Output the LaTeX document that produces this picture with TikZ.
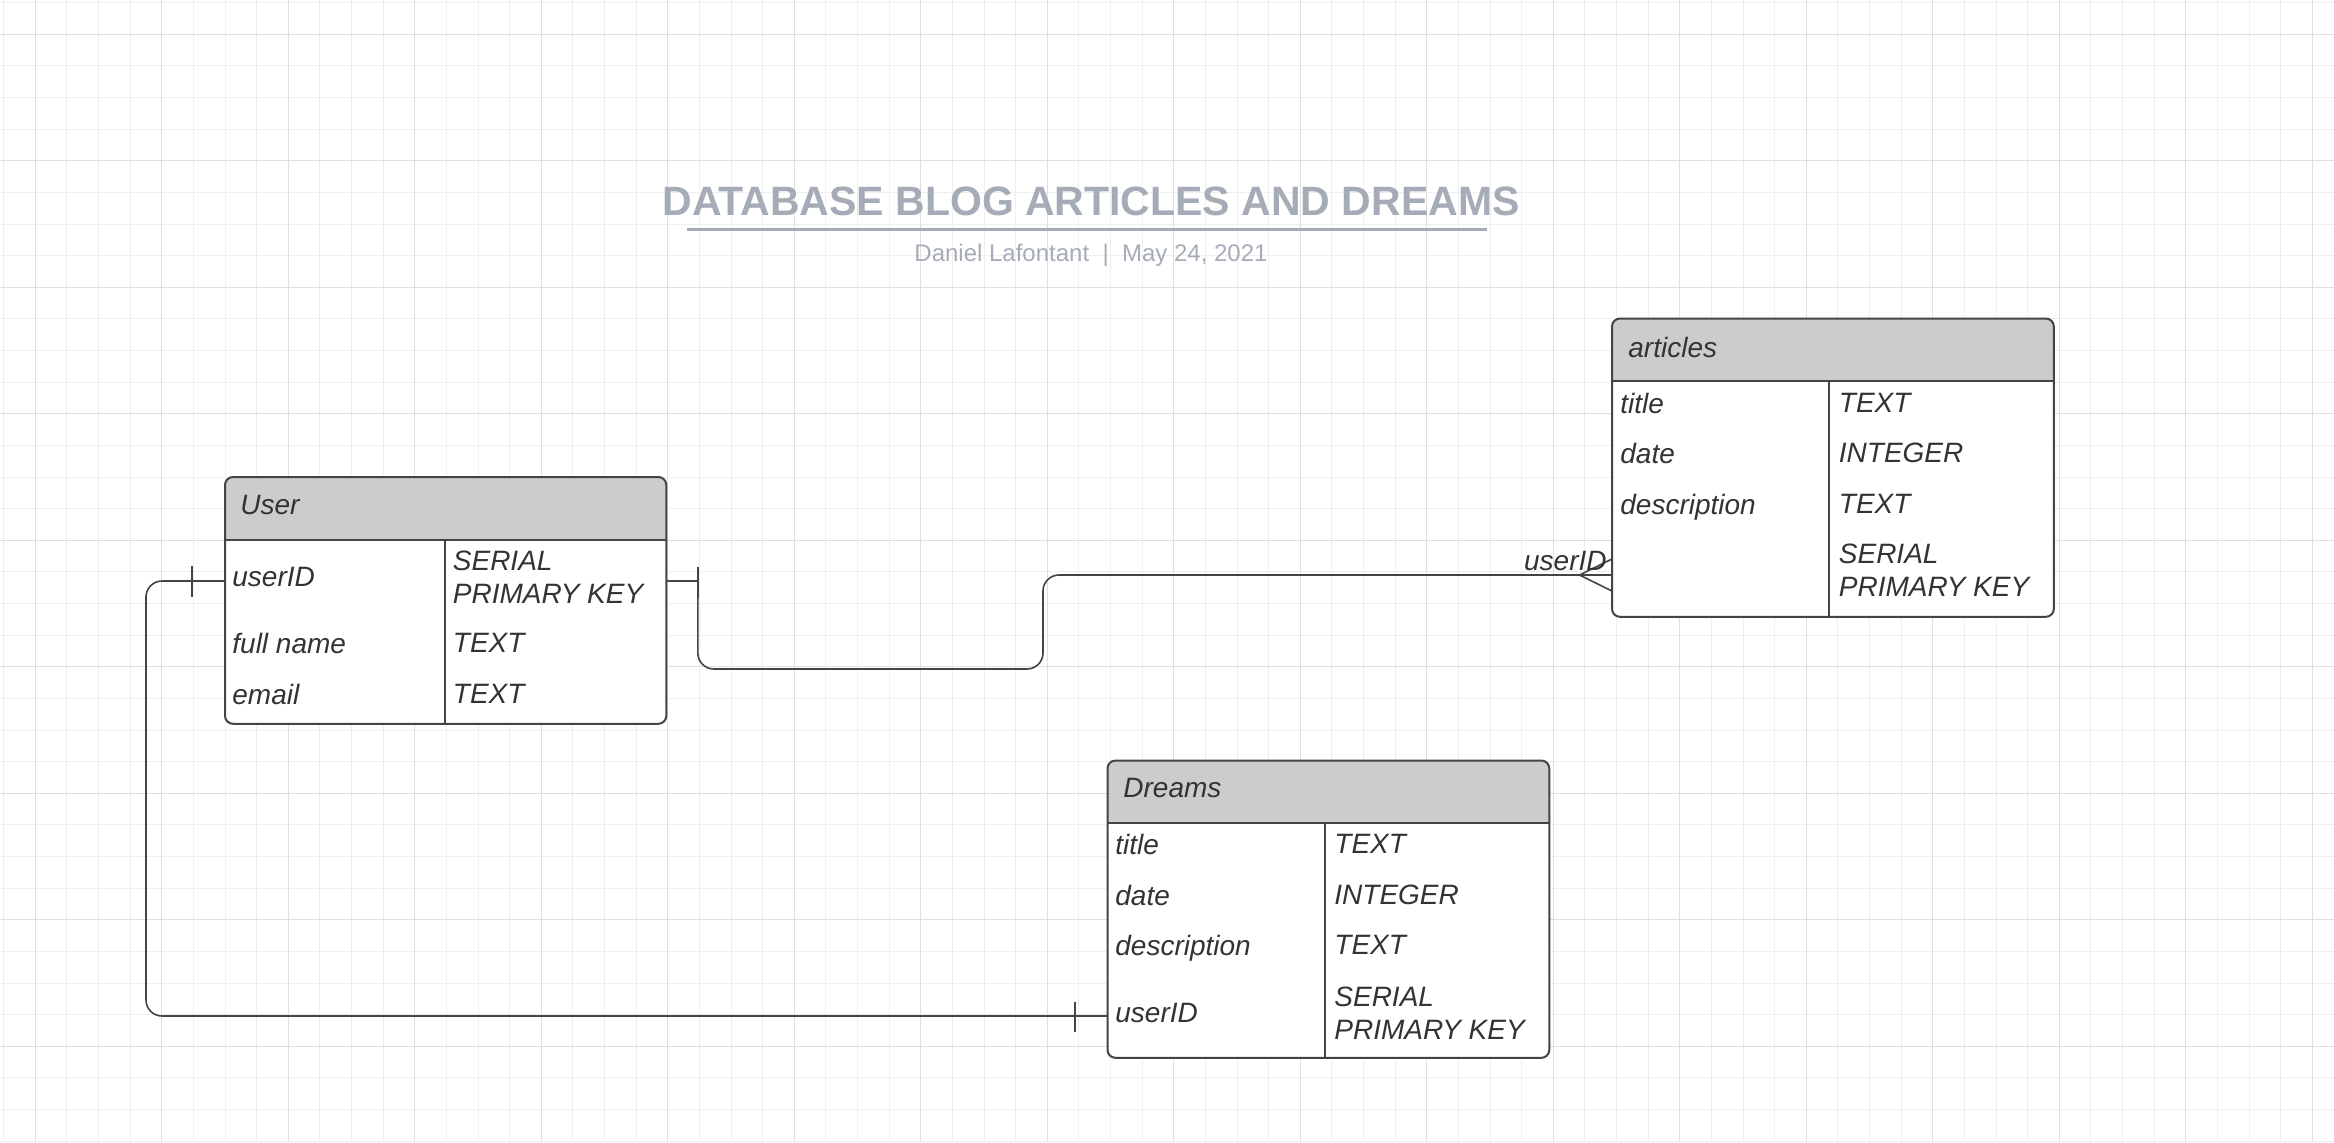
\documentclass[tikz,border=0pt]{standalone}
\usepackage{fontspec}
\setmainfont{Liberation Sans}
\usetikzlibrary{positioning, calc}
\definecolor{titlegray}{RGB}{166,172,183}
\definecolor{headgray}{RGB}{204,204,204}
\definecolor{erdline}{RGB}{68,68,68}
\definecolor{erdtext}{RGB}{51,51,51}
\definecolor{gridminor}{RGB}{239,239,239}
\definecolor{gridmajor}{RGB}{223,223,223}

\begin{document}
\begin{tikzpicture}[
    x=0.5pt, y=-0.5pt,
    every node/.style={inner sep=0pt, text=erdtext, font=\fontsize{14}{16.5}\selectfont\itshape},
    entity/.style={anchor=north west, fill=white, rounded corners=4pt},
    field/.style={anchor=west, text depth=0pt},
    fieldtype/.style={anchor=west, align=left},
    relation/.style={draw=erdline, line width=0.8pt},
    tableline/.style={draw=erdline, line width=1pt}
]

% background grid
\useasboundingbox (0,0) rectangle (2334,1142);
\fill[white] (0,0) rectangle (2334,1142);
\foreach \x in {3.675, 35.3, ..., 2334} \draw[gridminor, line width=0.5pt] (\x,0) -- (\x,1142);
\foreach \y in {2.675, 34.3, ..., 1142} \draw[gridminor, line width=0.5pt] (0,\y) -- (2334,\y);
\foreach \x in {35.3, 161.8, ..., 2334} \draw[gridmajor, line width=0.65pt] (\x,0) -- (\x,1142);
\foreach \y in {34.3, 160.8, ..., 1142} \draw[gridmajor, line width=0.65pt] (0,\y) -- (2334,\y);

% title
\node[font=\fontsize{20.5}{24}\selectfont\bfseries, text=titlegray, anchor=base] (title) at (1091,215) {DATABASE BLOG ARTICLES AND DREAMS};
\draw[titlegray, line width=1.4pt] (687,229.7) -- (1487,229.7);
\node[font=\fontsize{12}{14}\selectfont, text=titlegray, anchor=base] (subtitle) at (1091,261.7) {Daniel Lafontant\ \ |\ \ May 24, 2021};

% tables
\node[entity, minimum width=220.25pt, minimum height=123pt] (user) at (225,477) {};
\node[entity, minimum width=220.5pt, minimum height=148.75pt] (articles) at (1612,318.5) {};
\node[entity, minimum width=220.5pt, minimum height=148.25pt] (dreams) at (1107.5,760.5) {};

\foreach \tab/\split in {user/110pt, articles/108.5pt, dreams/108.75pt}{
  \begin{scope}
    \clip[rounded corners=4pt] (\tab.north west) rectangle (\tab.south east);
    \fill[headgray] (\tab.north west) rectangle ([yshift=-31.25pt]\tab.north east);
  \end{scope}
  \draw[tableline] ([yshift=-31.25pt]\tab.north west) -- ([yshift=-31.25pt]\tab.north east);
  \draw[tableline] ([xshift=\split, yshift=-31.25pt]\tab.north west) -- ([xshift=\split]\tab.south west);
  \draw[tableline, rounded corners=4pt] (\tab.north west) rectangle (\tab.south east);
}

% User
\node[field] (user-head) at (240,505) {User};
\node[field] (user-id) at (232,577) {userID};
\node[fieldtype] (user-idtype) at (452.5,577) {SERIAL\\PRIMARY KEY};
\node[field] (user-full) at (232,643) {full name};
\node[field] (user-fulltype) at (452.5,643) {TEXT};
\node[field] (user-mail) at (232,694) {email};
\node[field] (user-mailtype) at (452.5,694) {TEXT};

% articles
\node[field] (articles-head) at (1628,347) {articles};
\node[field] (articles-title) at (1620,403) {title};
\node[field] (articles-titletype) at (1838.5,403) {TEXT};
\node[field] (articles-date) at (1620,453) {date};
\node[field] (articles-datetype) at (1838.5,453) {INTEGER};
\node[field] (articles-desc) at (1620,504) {description};
\node[field] (articles-desctype) at (1838.5,504) {TEXT};
\node[fieldtype] (articles-idtype) at (1838.5,570.5) {SERIAL\\PRIMARY KEY};

% Dreams
\node[field] (dreams-head) at (1123,788) {Dreams};
\node[field] (dreams-title) at (1115,844) {title};
\node[field] (dreams-titletype) at (1334,844) {TEXT};
\node[field] (dreams-date) at (1115,895) {date};
\node[field] (dreams-datetype) at (1334,895) {INTEGER};
\node[field] (dreams-desc) at (1115,945) {description};
\node[field] (dreams-desctype) at (1334,945) {TEXT};
\node[field] (dreams-id) at (1115,1013) {userID};
\node[fieldtype] (dreams-idtype) at (1334,1013) {SERIAL\\PRIMARY KEY};

% User -- Dreams
\draw[relation, rounded corners=8pt] ($(user.west |- user-id.west)+(0,4)$) -- ++(-79,0) |- ($(dreams.west |- dreams-id.west)+(0,3)$);
\draw[relation] ($(user.west |- user-id.west)+(-33,-11)$) -- ++(0,31);
\draw[relation] ($(dreams.west |- dreams-id.west)+(-32.5,-11.3)$) -- ++(0,30);

% User -- articles
\coordinate (art-in) at ($(articles.west |- articles-idtype.west)+(0,4.5)$);
\draw[relation] ($(user.east |- user-id.west)+(0,4)$) -- ++(31.5,0) coordinate (user-bend);
\draw[relation, rounded corners=8pt] (user-bend) -- ++(0,88) -| ($(art-in)+(-569,0)$) -- (art-in);
\draw[relation] ($(user-bend)+(0,-14)$) -- ++(0,31);
\draw[relation] ($(art-in)+(0,-16)$) -- ($(art-in)+(-32.5,0)$) -- ($(art-in)+(0,16)$);
\node[field, anchor=east] (articles-fk) at ($(art-in)+(-5,-14)$) {userID};

\end{tikzpicture}
\end{document}
